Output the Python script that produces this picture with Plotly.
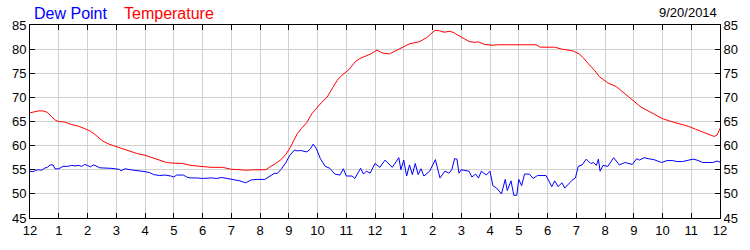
import plotly.graph_objects as go

# ---- data ----
temp_hours = [0.0, 0.15, 0.3, 0.45, 0.6, 0.75, 0.9, 1.0, 1.2, 1.43, 1.7, 1.95, 2.1, 2.26, 2.4, 2.54,
              2.75, 3.0, 3.2, 3.4, 3.7, 4.0, 4.3, 4.56, 4.75, 4.9, 5.3, 5.6, 6.0, 6.3, 6.7, 7.0,
              7.3, 7.5, 7.8, 8.2, 8.35, 8.55, 8.75, 8.9, 9.05, 9.2, 9.3, 9.45, 9.63, 9.8, 10.0,
              10.15, 10.33, 10.5, 10.68, 10.8, 10.96, 11.1, 11.3, 11.45, 11.65, 11.85, 12.07,
              12.25, 12.5, 12.65, 12.87, 13.0, 13.2, 13.4, 13.53, 13.65, 13.8, 13.95, 14.09,
              14.25, 14.4, 14.6, 14.75, 14.85, 15.0, 15.15, 15.27, 15.45, 15.6, 15.8, 16.07,
              16.3, 16.6, 17.0, 17.3, 17.6, 17.75, 18.0, 18.25, 18.5, 18.7, 18.9, 19.1, 19.25,
              19.37, 19.5, 19.65, 19.8, 19.95, 20.1, 20.4, 20.6, 20.8, 21.0, 21.25, 21.5, 21.7,
              22.0, 22.3, 22.6, 22.9, 23.15, 23.37, 23.6, 23.8, 23.9, 24.0]
temperature = [66.8, 67.0, 67.2, 67.2, 66.9, 66.0, 65.2, 65.0, 64.9, 64.4, 64.0, 63.4, 63.0, 62.3,
               61.6, 60.9, 60.3, 59.8, 59.4, 58.9, 58.4, 58.0, 57.4, 56.8, 56.5, 56.4, 56.3, 55.9,
               55.6, 55.5, 55.5, 55.1, 55.0, 54.9, 55.0, 55.0, 55.6, 56.3, 57.2, 58.2, 59.6, 61.3,
               62.5, 63.6, 64.8, 66.6, 68.0, 69.0, 70.0, 71.8, 73.5, 74.3, 75.0, 75.8, 77.3, 78.0,
               78.5, 79.0, 79.8, 79.2, 79.0, 79.4, 80.1, 80.5, 81.1, 81.3, 81.5, 81.9, 82.4, 83.2,
               83.9, 83.8, 83.5, 83.7, 83.4, 83.0, 82.5, 82.0, 81.6, 81.4, 81.5, 81.0, 80.8, 80.9,
               80.9, 80.9, 80.9, 80.9, 80.4, 80.4, 80.4, 80.0, 79.8, 79.6, 79.0, 78.2, 77.3, 76.5,
               75.5, 74.3, 73.6, 73.0, 72.2, 71.2, 70.2, 69.3, 68.0, 67.2, 66.5, 65.6, 65.0, 64.5,
               64.0, 63.4, 62.9, 62.3, 61.9, 62.2, 63.6]

dew_hours = [0.0, 0.1, 0.2, 0.3, 0.4, 0.5, 0.6, 0.7, 0.8, 0.87, 1.0, 1.15, 1.3, 1.45, 1.56, 1.7,
             1.8, 1.9, 2.0, 2.1, 2.2, 2.26, 2.43, 2.6, 2.8, 2.96, 3.1, 3.17, 3.3, 3.5, 3.7, 3.86,
             4.0, 4.17, 4.3, 4.5, 4.7, 4.9, 5.0, 5.1, 5.33, 5.45, 5.57, 5.8, 6.0, 6.3, 6.5, 6.67,
             6.85, 7.0, 7.15, 7.3, 7.5, 7.6, 7.7, 7.9, 8.17, 8.35, 8.52, 8.6, 8.75, 8.9, 9.04,
             9.2, 9.3, 9.4, 9.55, 9.63, 9.75, 9.85, 9.95, 10.1, 10.27, 10.43, 10.6, 10.78, 10.9,
             11.0, 11.2, 11.3, 11.5, 11.6, 11.7, 11.83, 12.0, 12.17, 12.35, 12.6, 12.83, 12.9,
             13.0, 13.1, 13.2, 13.3, 13.4, 13.5, 13.6, 13.7, 13.9, 14.1, 14.26, 14.43, 14.57,
             14.67, 14.77, 14.85, 14.92, 15.0, 15.27, 15.37, 15.5, 15.6, 15.7, 15.87, 16.0, 16.1,
             16.23, 16.4, 16.53, 16.6, 16.73, 16.83, 16.93, 17.0, 17.1, 17.2, 17.37, 17.5, 17.65,
             17.8, 17.95, 18.15, 18.25, 18.37, 18.5, 18.6, 18.85, 18.97, 19.07, 19.2, 19.35,
             19.5, 19.6, 19.7, 19.77, 19.83, 19.93, 20.1, 20.3, 20.5, 20.7, 20.95, 21.1, 21.2,
             21.36, 21.5, 21.7, 21.97, 22.15, 22.36, 22.5, 22.7, 22.9, 23.06, 23.2, 23.4, 23.75,
             23.9, 24.0]
dew_point = [54.7, 54.6, 54.9, 55.0, 54.9, 55.3, 55.5, 56.0, 56.0, 55.2, 55.2, 55.7, 55.7, 55.9,
             55.8, 55.9, 55.7, 56.1, 55.9, 55.6, 56.0, 55.9, 55.4, 55.4, 55.3, 55.2, 55.1, 54.8,
             55.2, 55.0, 54.9, 54.7, 54.6, 54.4, 54.0, 53.8, 53.9, 53.7, 53.5, 53.9, 53.9, 53.5,
             53.3, 53.3, 53.2, 53.3, 53.2, 53.4, 53.2, 53.0, 52.9, 52.7, 52.3, 52.6, 52.9, 53.0,
             53.0, 53.7, 54.3, 54.2, 55.2, 56.5, 58.0, 59.1, 58.9, 59.0, 58.7, 58.7, 59.3, 60.3,
             59.5, 57.3, 55.7, 55.3, 54.1, 53.9, 55.2, 53.7, 53.7, 53.2, 55.3, 54.1, 54.7, 54.3,
             56.3, 55.5, 57.0, 55.5, 57.5, 55.0, 57.0, 53.7, 56.0, 54.0, 56.3, 54.0, 55.2, 53.7,
             54.7, 57.1, 53.3, 54.7, 54.3, 55.0, 57.3, 57.2, 54.3, 55.0, 54.7, 53.5, 54.1, 53.3,
             54.7, 53.9, 54.7, 51.7, 51.2, 50.0, 53.0, 50.7, 52.7, 49.7, 49.7, 53.0, 51.7, 54.1,
             54.1, 53.2, 53.8, 53.8, 53.8, 51.5, 52.7, 51.5, 52.3, 51.2, 52.8, 53.3, 55.7, 56.0,
             57.2, 56.3, 56.5, 55.9, 57.2, 54.7, 55.9, 55.7, 57.5, 56.0, 56.5, 56.1, 57.3, 57.0,
             57.5, 57.3, 57.1, 56.5, 56.9, 56.9, 56.7, 56.7, 57.0, 57.2, 57.0, 56.5, 56.5, 56.8,
             56.6]

hour_ticks = list(range(0, 25))
hour_labels = ["12", "1", "2", "3", "4", "5", "6", "7", "8", "9", "10", "11",
               "12", "1", "2", "3", "4", "5", "6", "7", "8", "9", "10", "11", "12"]
y_ticks = [45, 50, 55, 60, 65, 70, 75, 80, 85]
date_label = "9/20/2014"
series_names = ["Dew Point", "Temperature"]

FONT = "Liberation Sans, Arial, sans-serif"

fig = go.Figure()
fig.add_trace(go.Scatter(x=temp_hours, y=temperature, mode="lines", name=series_names[1],
                         line=dict(color="#ff0000", width=1), yaxis="y"))
fig.add_trace(go.Scatter(x=dew_hours, y=dew_point, mode="lines", name=series_names[0],
                         line=dict(color="#0000ff", width=1), yaxis="y2"))

axis_common = dict(ticks="inside", ticklen=5, tickcolor="black", tickwidth=1,
                   showline=True, linecolor="black", linewidth=1, zeroline=False,
                   tickfont=dict(family=FONT, size=13, color="black"))

fig.update_layout(
    width=750, height=250,
    margin=dict(l=30, r=30, t=25, b=25),
    paper_bgcolor="white", plot_bgcolor="white",
    showlegend=False,
    font=dict(family=FONT, size=13, color="black"),
    xaxis=dict(range=[0, 24], tickmode="array", tickvals=hour_ticks, ticktext=hour_labels,
               showgrid=True, gridcolor="#d0d0d0", gridwidth=1, mirror="ticks",
               **axis_common),
    yaxis=dict(range=[45, 85], tickmode="array", tickvals=y_ticks,
               showgrid=True, gridcolor="#d0d0d0", gridwidth=1, mirror="ticks",
               **axis_common),
    yaxis2=dict(range=[45, 85], tickmode="array", tickvals=y_ticks, overlaying="y",
                side="right", showgrid=False, **axis_common),
    annotations=[
        dict(text=series_names[0], xref="paper", yref="paper", x=0.003, y=1.062,
             xanchor="left", yanchor="middle", showarrow=False,
             font=dict(family=FONT, size=16, color="#0000ff")),
        dict(text=series_names[1], xref="paper", yref="paper", x=0.133, y=1.062,
             xanchor="left", yanchor="middle", showarrow=False,
             font=dict(family=FONT, size=16, color="#ff0000")),
        dict(text=date_label, xref="paper", yref="paper", x=0.998, y=1.065,
             xanchor="right", yanchor="middle", showarrow=False,
             font=dict(family=FONT, size=13, color="black")),
    ],
)

fig.write_html("out.html")
